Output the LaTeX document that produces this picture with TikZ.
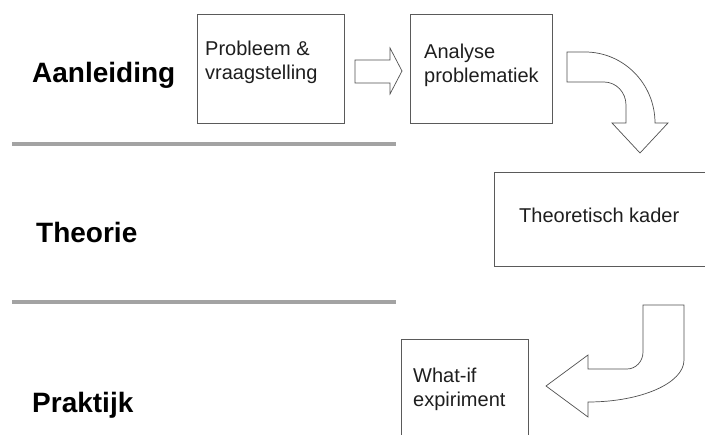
\documentclass[tikz,border=0pt]{standalone}
\usepackage{fontspec}
\setmainfont{Liberation Sans}
\usetikzlibrary{calc}
\definecolor{boxgray}{HTML}{5A5A5A}
\definecolor{arrowgray}{HTML}{505050}
\definecolor{divgray}{HTML}{A3A3A3}
\definecolor{textdark}{HTML}{1E1E1E}
\begin{document}
\begin{tikzpicture}[x=1pt,y=-1pt,
  stepbox/.style={draw=boxgray, line width=0.8pt, inner sep=0pt},
  boxtext/.style={font=\fontsize{20}{24}\selectfont, text=textdark, inner sep=0pt, align=left},
  phase/.style={font=\fontsize{28}{32}\selectfont\bfseries, inner sep=0pt, anchor=base west},
  divider/.style={draw=divgray, line width=4pt},
  blockarrow/.style={draw=arrowgray, line width=0.7pt, fill=white, line join=miter}]
\path[use as bounding box, clip] (0,0) rectangle (705,435);

% phase labels
\node[phase] (aanl) at (32,83) {Aanleiding};
\node[phase] (theo) at (36,243) {Theorie};
\node[phase] (prak) at (32,413) {Praktijk};

% dividers between the phases
\coordinate (d1a) at (12,144); \coordinate (d1b) at (396,144);
\coordinate (d2a) at (12,302); \coordinate (d2b) at (396,302);
\draw[divider] (d1a) -- (d1b);
\draw[divider] (d2a) -- (d2b);

% step boxes
\node[stepbox, minimum width=147pt, minimum height=109pt] (prob) at (270.5,68.5) {};
\node[stepbox, minimum width=142pt, minimum height=109pt] (anal) at (481,68.5) {};
\node[stepbox, minimum width=226pt, minimum height=94pt] (kader) at (607,219) {};
\node[stepbox, minimum width=127pt, minimum height=111pt] (what) at (464.5,394.5) {};

% box texts
\node[boxtext, anchor=north west] (probt) at (205,40.4) {Probleem \&\\vraagstelling};
\node[boxtext, anchor=north west] (analt) at (424,43.4) {Analyse\\problematiek};
\node[boxtext, anchor=base west] (kadert) at (519,223) {Theoretisch kader};
\node[boxtext, anchor=north west] (whatt) at (413,367.4) {What-if\\expiriment};

% straight block arrow between the first two steps
\draw[blockarrow] (355,60) -- (390,60) -- (390,48) -- (402,71) -- (390,94)
  -- (390,83) -- (355,83) -- cycle;

% bent block arrow down to the theory step
\draw[blockarrow] (567,52) -- (585,52)
  arc[start angle=-90, end angle=0, x radius=70, y radius=71]
  -- (668,123) -- (640,153) -- (612,123) -- (626,123) -- (626,105)
  arc[start angle=0, end angle=-90, x radius=22, y radius=23]
  -- (567,82) -- cycle;

% bent block arrow down to the practice step
\draw[blockarrow] (643,305) -- (684,305) -- (684,360)
  arc[start angle=0, end angle=90, x radius=96, y radius=42]
  -- (588,417) -- (546,386) -- (588,355) -- (588,369) -- (627,369)
  arc[start angle=90, end angle=0, x radius=16, y radius=17]
  -- cycle;
\end{tikzpicture}
\end{document}
